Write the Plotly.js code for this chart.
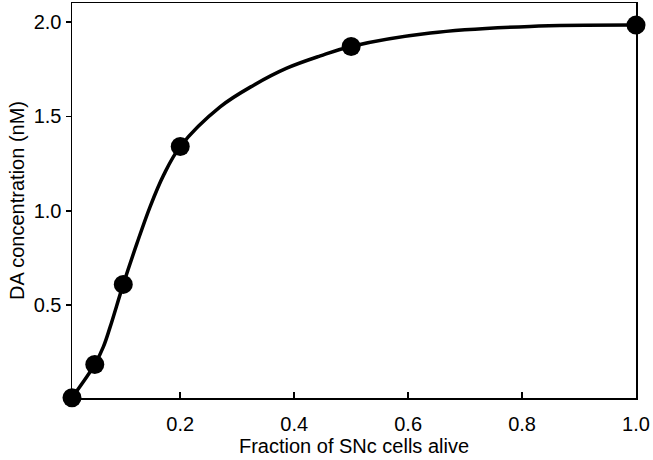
<!DOCTYPE html>
<html>
<head>
<meta charset="utf-8">
<script src="https://cdn.plot.ly/plotly-3.0.1.min.js"></script>
<style>
  html, body { margin: 0; padding: 0; background: #fff; }
  #chart { width: 653px; height: 460px; }
</style>
</head>
<body>
<div id="chart"></div>
<script>
// measured points (fraction alive -> DA concentration)
const fracAlive = [0.01, 0.05, 0.1, 0.2, 0.5, 1.0];
const daConc = [0.01, 0.186, 0.61, 1.34, 1.87, 1.983];

// fitted curve
const curveX = [0.01, 0.05, 0.065, 0.077, 0.1, 0.124, 0.147, 0.171, 0.2, 0.27, 0.329, 0.387, 0.446, 0.5, 0.639, 0.814, 1.0];
const curveY = [0.01, 0.186, 0.279, 0.385, 0.61, 0.827, 1.021, 1.19, 1.34, 1.55, 1.665, 1.755, 1.82, 1.87, 1.941, 1.976, 1.983];

const xTicks = [0.2, 0.4, 0.6, 0.8, 1.0];
const xTickText = ['0.2', '0.4', '0.6', '0.8', '1.0'];
const yTicks = [0.5, 1.0, 1.5, 2.0];
const yTickText = ['0.5', '1.0', '1.5', '2.0'];

const fontFam = 'Liberation Sans, Arial, sans-serif';

var data = [
  {
    x: curveX,
    y: curveY,
    mode: 'lines',
    line: { color: '#000', width: 3.5, shape: 'spline', smoothing: 1 },
    hoverinfo: 'skip',
    cliponaxis: false
  },
  {
    x: fracAlive,
    y: daConc,
    mode: 'markers',
    marker: { color: '#000', size: 19 },
    cliponaxis: false
  }
];

var layout = {
  width: 653,
  height: 460,
  margin: { l: 72, r: 17, t: 3, b: 62 },
  paper_bgcolor: '#fff',
  plot_bgcolor: '#fff',
  showlegend: false,
  font: { family: fontFam, size: 20, color: '#000' },
  xaxis: {
    range: [0.01, 1.0],
    tickvals: xTicks,
    ticktext: xTickText,
    ticks: 'inside',
    ticklen: 6,
    tickwidth: 1.5,
    tickcolor: '#000',
    showline: true,
    linecolor: '#000',
    linewidth: 1.5,
    mirror: true,
    showgrid: false,
    zeroline: false,
    ticklabelstandoff: 7,
    tickfont: { family: fontFam, size: 20, color: '#000' },
    title: { text: 'Fraction of SNc cells alive', font: { family: fontFam, size: 20, color: '#000' }, standoff: 1 }
  },
  yaxis: {
    range: [0.0085, 2.1],
    tickvals: yTicks,
    ticktext: yTickText,
    ticks: 'outside',
    ticklen: 5,
    tickwidth: 1.5,
    tickcolor: '#000',
    showline: true,
    linecolor: '#000',
    linewidth: 1.5,
    mirror: true,
    showgrid: false,
    zeroline: false,
    tickfont: { family: fontFam, size: 20, color: '#000' },
    title: { text: 'DA concentration (nM)', font: { family: fontFam, size: 20, color: '#000' }, standoff: 3 }
  }
};

Plotly.newPlot('chart', data, layout, { staticPlot: true, displayModeBar: false });
</script>
</body>
</html>
